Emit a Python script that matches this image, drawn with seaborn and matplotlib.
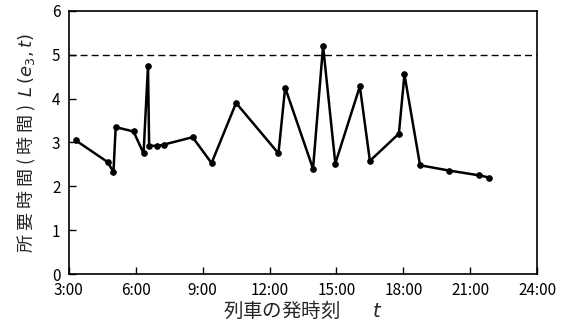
import numpy as np
import pandas as pd
import matplotlib
matplotlib.use("Agg")
import matplotlib.pyplot as plt
import seaborn as sns

# departure time (hours) and travel time L(e3, t) (hours)
depart_hours = [3.3, 4.75, 5.0, 5.1, 5.9, 6.35, 6.55, 6.6, 6.95, 7.25, 8.55, 9.4, 10.5,
                12.4, 12.7, 13.95, 14.4, 14.95, 16.05, 16.5, 17.8, 18.05, 18.75, 20.05,
                21.4, 21.85]
travel_time = [3.05, 2.55, 2.32, 3.35, 3.25, 2.75, 4.75, 2.93, 2.92, 2.95, 3.12, 2.53, 3.9,
               2.75, 4.25, 2.4, 5.2, 2.52, 4.28, 2.58, 3.2, 4.55, 2.48, 2.36, 2.25, 2.2]
limit_value = 5
x_ticks = [3, 6, 9, 12, 15, 18, 21, 24]
x_tick_labels = ["3:00", "6:00", "9:00", "12:00", "15:00", "18:00", "21:00", "24:00"]
y_ticks = [0, 1, 2, 3, 4, 5, 6]

df = pd.DataFrame({"t": depart_hours, "L": travel_time})

sns.set_style("ticks")
plt.rcParams["font.family"] = ["Noto Sans CJK JP", "DejaVu Sans"]
plt.rcParams["mathtext.fontset"] = "dejavusans"

fig = plt.figure(figsize=(5.69, 3.29), dpi=100)
ax = fig.add_axes([0.121, 0.167, 0.823, 0.800])

sns.lineplot(data=df, x="t", y="L", ax=ax, color="black", linewidth=1.8,
             marker="o", markersize=4, markeredgecolor="black", sort=False)
ax.axhline(limit_value, color="black", linewidth=1.0, linestyle=(0, (5, 3)))

ax.set_xlim(3, 24)
ax.set_ylim(0, 6)
ax.set_xticks(x_ticks)
ax.set_xticklabels(x_tick_labels)
ax.set_yticks(y_ticks)
ax.tick_params(direction="in", length=5, width=1, labelsize=11, colors="black")
ax.tick_params(axis="x", pad=6)
ax.tick_params(axis="y", pad=6)
for s in ax.spines.values():
    s.set_linewidth(1.2)
    s.set_color("black")

ax.set_xlabel("列車の発時刻　   $t$", fontsize=14, labelpad=0)
ax.set_ylabel("所 要 時 間 ( 時 間 )  $L\\,(e_3,t)$", fontsize=13, labelpad=10)

fig.savefig("out.png", dpi=100, facecolor="white")
